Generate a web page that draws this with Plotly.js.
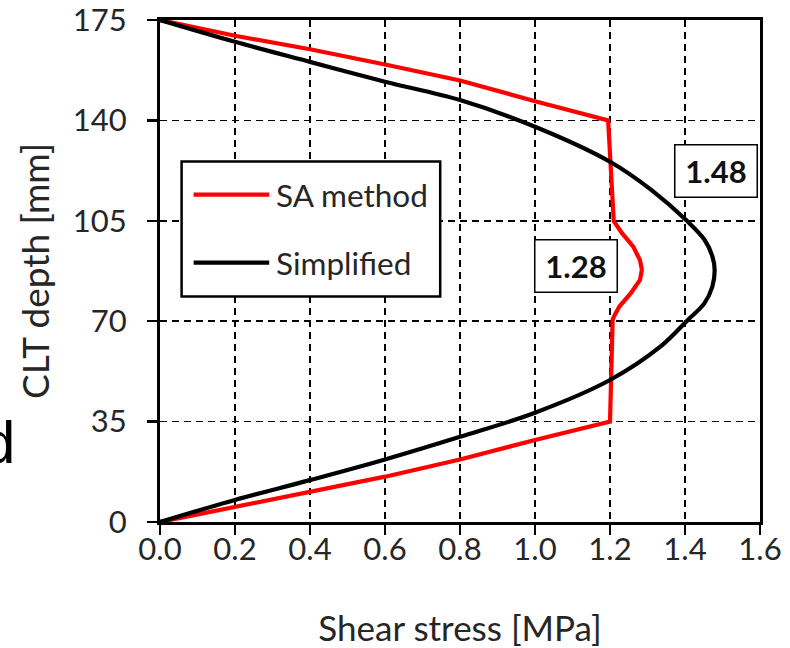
<!DOCTYPE html>
<html>
<head>
<meta charset="utf-8">
<script src="https://cdn.plot.ly/plotly-3.0.1.min.js"></script>
<style>html,body{margin:0;padding:0;background:#fff;}#chart{width:790px;height:648px;}</style>
</head>
<body>
<div id="chart"></div>
<script>
// ---- data ----
const saName = "SA method";
const saStress = [0, 0.2, 0.4, 0.6, 0.8, 1.0, 1.2, 1.207, 1.212, 1.225, 1.255, 1.28, 1.285, 1.28, 1.262, 1.232, 1.21, 1.195, 1.0, 0.8, 0.6, 0.4, 0.2, 0];
const saDepth  = [0, 5.2, 10.6, 15.8, 21.8, 28.6, 35, 70.5, 72, 75.1, 79.7, 84.4, 87.9, 91.3, 96, 100.7, 104.9, 140, 146.7, 153.9, 159.5, 164.8, 169.5, 175];

const simpName = "Simplified";
const simpStress = [0, 0.2, 0.4, 0.6, 0.8, 1.0, 1.2, 1.335, 1.405, 1.452, 1.473, 1.479, 1.473, 1.452, 1.405, 1.31, 1.2, 1.0, 0.8, 0.6, 0.4, 0.2, 0];
const simpDepth  = [0, 7.7, 14.6, 21.8, 29.7, 38.1, 49.5, 61.2, 70.1, 76.3, 82.1, 87.9, 92.6, 98.4, 105, 115.8, 125.6, 137.8, 147.1, 153.5, 160.4, 167.4, 175];

const peakLabels = ["1.28", "1.48"];
const xTicks = [0, 0.2, 0.4, 0.6, 0.8, 1.0, 1.2, 1.4, 1.6];
const yTicks = [0, 35, 70, 105, 140, 175];

// ---- styling ----
const FONT = "Lato, 'Open Sans', sans-serif";
const TXT = "#262626";
const RED = "#ff0000";

const traces = [
  {x: saStress, y: saDepth, name: saName, mode: "lines", type: "scatter",
   line: {color: RED, width: 4.2}, showlegend: false, hoverinfo: "skip"},
  {x: simpStress, y: simpDepth, name: simpName, mode: "lines", type: "scatter",
   line: {color: "#000", width: 4.2, shape: "spline", smoothing: 1.0}, showlegend: false, hoverinfo: "skip"}
];

const axisCommon = {
  showgrid: true, gridcolor: "#000", gridwidth: 1.5, griddash: "7px,5px",
  showline: true, linecolor: "#000", linewidth: 3, mirror: true,
  ticks: "outside", ticklen: 10, tickwidth: 2.5, tickcolor: "#000",
  zeroline: false, ticklabeloverflow: "allow",
  tickfont: {family: FONT, size: 31, color: TXT}
};

// legend drawn as a box in paper coordinates
const lg = {x0: 0.036, x1: 0.467, y0: 0.449, y1: 0.718};
const lgRows = [0.652, 0.5165];

const layout = {
  width: 790, height: 648,
  margin: {l: 160, r: 30, t: 20, b: 126},
  paper_bgcolor: "#fff", plot_bgcolor: "#fff",
  xaxis: Object.assign({}, axisCommon, {
    range: [0, 1.6], tickvals: xTicks, ticktext: xTicks.map(v => v.toFixed(1)), ticklabelstandoff: -12,
    title: {text: "Shear stress [MPa]", font: {family: FONT, size: 35, color: TXT}, standoff: 51}
  }),
  yaxis: Object.assign({}, axisCommon, {
    range: [0, 175], tickvals: yTicks, ticktext: yTicks.map(String), ticklabelstandoff: 14,
    title: {text: "CLT depth [mm]", font: {family: FONT, size: 37, color: TXT}, standoff: 12}
  }),
  shapes: [
    {type: "rect", xref: "paper", yref: "paper", x0: lg.x0, x1: lg.x1, y0: lg.y0, y1: lg.y1,
     line: {color: "#000", width: 2.5}, fillcolor: "#fff", layer: "above"},
    {type: "line", xref: "paper", yref: "paper", x0: 0.056, x1: 0.182, y0: lgRows[0], y1: lgRows[0],
     line: {color: RED, width: 4.2}, layer: "above"},
    {type: "line", xref: "paper", yref: "paper", x0: 0.056, x1: 0.182, y0: lgRows[1], y1: lgRows[1],
     line: {color: "#000", width: 4.2}, layer: "above"}
  ],
  annotations: [
    {xref: "paper", yref: "paper", x: 0.19, y: lgRows[0], xanchor: "left", yanchor: "middle",
     text: saName, showarrow: false, font: {family: FONT, size: 31.5, color: TXT}},
    {xref: "paper", yref: "paper", x: 0.19, y: lgRows[1], xanchor: "left", yanchor: "middle",
     text: simpName, showarrow: false, font: {family: FONT, size: 31.5, color: TXT}},
    {xref: "paper", yref: "paper", x: 0.693, y: 0.5105, xanchor: "center", yanchor: "middle",
     text: "<b>" + peakLabels[0] + "</b>", showarrow: false, width: 78, height: 48,
     bgcolor: "#fff", bordercolor: "#000", borderwidth: 1.5, borderpad: 1.5,
     font: {family: FONT, size: 31, color: "#111"}},
    {xref: "paper", yref: "paper", x: 0.926, y: 0.700, xanchor: "center", yanchor: "middle",
     text: "<b>" + peakLabels[1] + "</b>", showarrow: false, width: 78, height: 48,
     bgcolor: "#fff", bordercolor: "#000", borderwidth: 1.5, borderpad: 1.5,
     font: {family: FONT, size: 31, color: "#111"}},
    {xref: "paper", yref: "paper", x: -0.238, y: 0.087, xanchor: "right", yanchor: "bottom",
     text: "d", showarrow: false, font: {family: "Liberation Sans, Arial, sans-serif", size: 60, color: "#000"}}
  ]
};

Plotly.newPlot("chart", traces, layout, {displayModeBar: false, staticPlot: true});
</script>
</body>
</html>
